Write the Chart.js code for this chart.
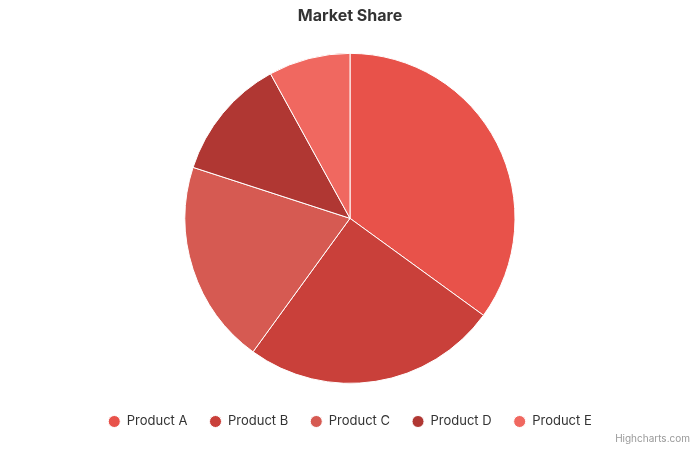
<!DOCTYPE html>
<html>
<head>
<meta charset="utf-8">
<script src="https://cdn.jsdelivr.net/npm/chart.js@4"></script>
<style>
  html, body { margin: 0; padding: 0; background: #fff; }
  #wrap { position: relative; width: 700px; height: 450px; }
  #credits { position: absolute; right: 10px; bottom: 6px; font: 10px Inter, sans-serif; color: #999; }
</style>
</head>
<body>
<div id="wrap">
  <canvas id="chart" width="700" height="450"></canvas>
  <div id="credits">Highcharts.com</div>
</div>
<script>
// Datos del gráfico
const categories = ['Product A', 'Product B', 'Product C', 'Product D', 'Product E'];
const shares = [35, 25, 20, 12, 8];
const colors = ['#e8524a', '#c9403a', '#d65a52', '#b03733', '#f06860'];

const ctx = document.getElementById('chart');

const chart = new Chart(ctx, {
  type: 'pie',
  data: {
    labels: categories,
    datasets: [{
      data: shares,
      backgroundColor: colors,
      borderColor: '#ffffff',
      borderWidth: 1,
      radius: 165
    }]
  },
  options: {
    responsive: false,
    animation: false,
    layout: { padding: { top: 0, bottom: 12 } },
    plugins: {
      title: {
        display: true,
        text: 'Market Share',
        color: '#333333',
        font: { family: 'Inter', size: 16, weight: 'bold' },
        padding: { top: 7, bottom: 17.5 }
      },
      legend: {
        position: 'bottom',
        labels: {
          usePointStyle: true,
          pointStyle: 'circle',
          boxWidth: 12,
          boxHeight: 8.5,
          padding: 22,
          color: '#333333',
          font: { family: 'Inter', size: 13 }
        }
      },
      tooltip: { enabled: false }
    }
  }
});
</script>
</body>
</html>
